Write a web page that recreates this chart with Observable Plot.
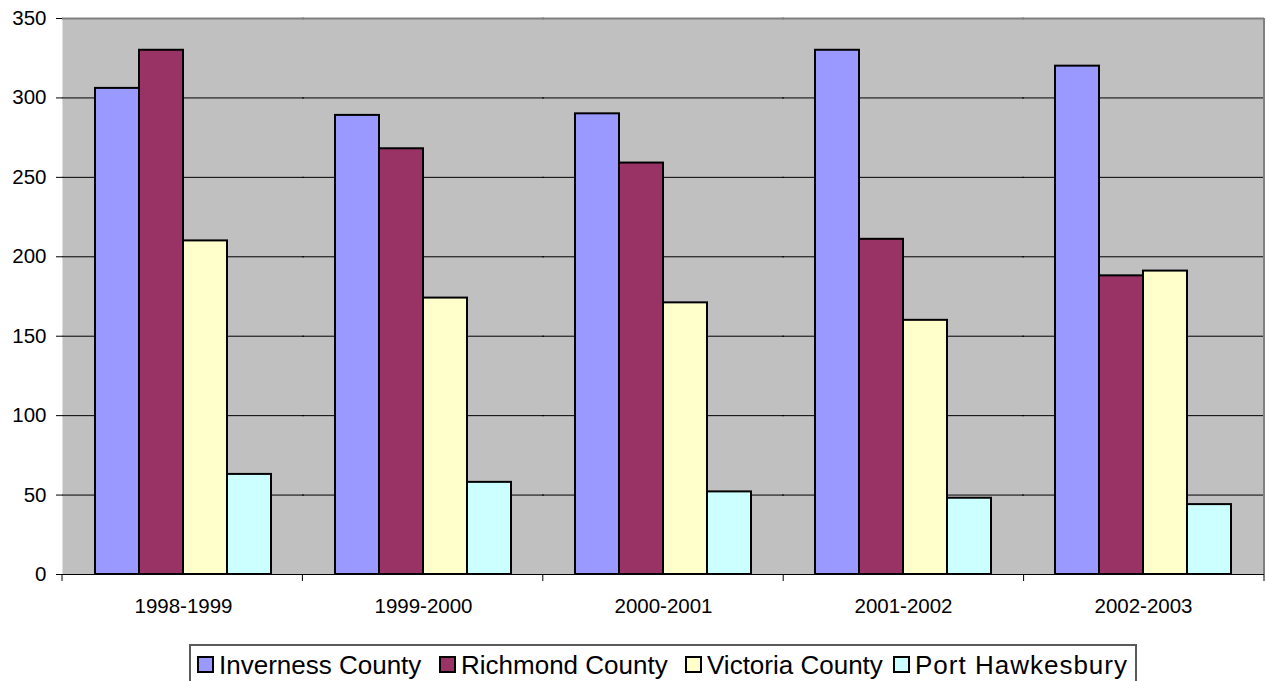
<!DOCTYPE html>
<html>
<head>
<meta charset="utf-8">
<script src="https://cdn.jsdelivr.net/npm/d3@7"></script>
<script src="https://cdn.jsdelivr.net/npm/@observablehq/plot@0.6"></script>
<style>
  html, body { margin: 0; padding: 0; background: #fff; overflow: hidden; }
  #wrap { position: relative; width: 1266px; height: 681px; font-family: Arial, "Liberation Sans", sans-serif; }
  #chart svg text { font-size: 20.5px !important; font-family: Arial, "Liberation Sans", sans-serif; fill: #000; }
  #legend {
    position: absolute; left: 189px; top: 644px; width: 948px; height: 60px;
    border: 2px solid #5a5a5a; box-sizing: border-box; background: #fff;
    font-size: 26px; line-height: 30px; color: #000; white-space: nowrap;
  }
  .item { position: absolute; top: 4px; display: flex; align-items: flex-start; }
  .sw { width: 17px; height: 17px; box-sizing: border-box; border: 2px solid #000; margin-top: 6px; margin-right: 5px; }
</style>
</head>
<body>
<div id="wrap"><div id="chart"></div><div id="legend"></div></div>
<script>
const categories = ["1998-1999", "1999-2000", "2000-2001", "2001-2002", "2002-2003"];
const seriesNames = ["Inverness County", "Richmond County", "Victoria County", "Port Hawkesbury"];
const inverness = [306, 289, 290, 330, 320];
const richmond = [330, 268, 259, 211, 188];
const victoria = [210, 174, 171, 160, 191];
const portHawkesbury = [63, 58, 52, 48, 44];
const seriesColors = ["#9999FF", "#993366", "#FFFFCC", "#CCFFFF"];
const yTicks = [0, 50, 100, 150, 200, 250, 300, 350];
const gridValues = [50, 100, 150, 200, 250, 300];

const seriesValues = [inverness, richmond, victoria, portHawkesbury];
const data = [];
categories.forEach((c, i) => {
  seriesNames.forEach((s, j) => {
    data.push({category: c, series: s, value: seriesValues[j][i]});
  });
});

const chart = Plot.plot({
  width: 1266,
  height: 630,
  marginLeft: 62,
  marginRight: 2,
  marginTop: 18,
  marginBottom: 56,
  style: {fontFamily: "Arial, 'Liberation Sans', sans-serif", fontSize: "20.5px", background: "#fff", color: "#000", overflow: "visible"},
  facet: {data, x: "category", label: null},
  fx: {domain: categories, padding: 0, axis: "bottom", tickSize: 0, tickPadding: 24, label: null},
  x: {domain: seriesNames, axis: null, paddingInner: 0, paddingOuter: 0.72},
  y: {domain: [0, 350], ticks: yTicks, tickSize: 7, tickPadding: 10, label: null, line: true},
  color: {domain: seriesNames, range: seriesColors},
  marks: [
    Plot.frame({fill: "#C0C0C0", stroke: null, insetLeft: -1, insetRight: -1}),
    Plot.ruleY(gridValues, {stroke: "#000", strokeWidth: 1, insetLeft: -1, insetRight: -1}),
    Plot.ruleY([350], {stroke: "#808080", strokeWidth: 2, insetLeft: -1, insetRight: -1}),
    Plot.barY(data, {x: "series", y: "value", fill: "series", stroke: "#000", strokeWidth: 2}),
    Plot.ruleY([0], {stroke: "#000", strokeWidth: 1, insetLeft: -1, insetRight: -1})
  ]
});

document.getElementById("chart").appendChild(chart);

// category boundary ticks and right frame edge, from the fx and y scales
const fxs = chart.scale("fx");
const ys = chart.scale("y");
const [r0, r1] = fxs.range;
const step = (r1 - r0) / fxs.domain.length;
const yBase = ys.range[0];
const yTop = ys.range[1];
const svg = d3.select(chart);
const g = svg.append("g");
for (let i = 0; i <= fxs.domain.length; i++) {
  const x = r0 + i * step;
  g.append("line").attr("x1", x).attr("x2", x).attr("y1", yBase).attr("y2", yBase + 7)
    .attr("stroke", "#000").attr("stroke-width", 1);
}
g.append("line").attr("x1", r1).attr("x2", r1).attr("y1", yTop).attr("y2", yBase)
  .attr("stroke", "#808080").attr("stroke-width", 2);

// legend
const legendLeft = [6, 248, 494, 702];
const legendSpacing = ["0px", "0px", "0px", "1px"];
const legend = d3.select("#legend");
seriesNames.forEach((s, j) => {
  const it = legend.append("div").attr("class", "item").style("left", legendLeft[j] + "px");
  it.append("div").attr("class", "sw").style("background", seriesColors[j]);
  it.append("span").style("letter-spacing", legendSpacing[j]).text(s);
});
</script>
</body>
</html>
